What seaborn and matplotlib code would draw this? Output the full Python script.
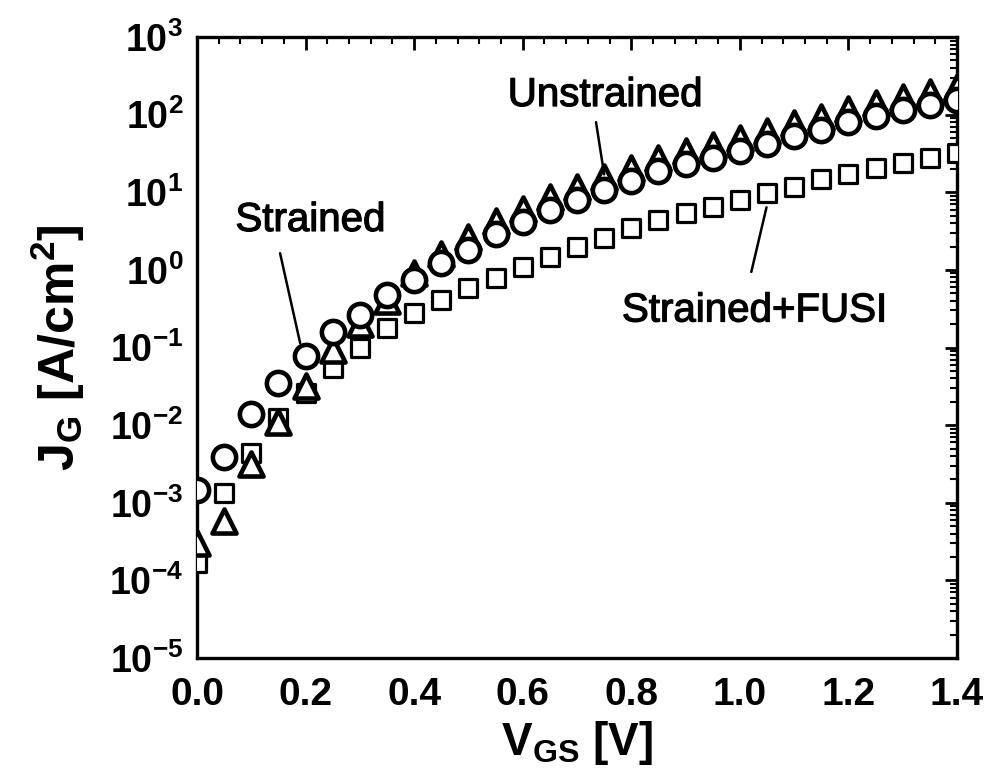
import numpy as np
import pandas as pd
import matplotlib
matplotlib.use("Agg")
import matplotlib.pyplot as plt
import matplotlib.patheffects as pe
import seaborn as sns
from matplotlib import font_manager
from matplotlib.ticker import MultipleLocator, LogLocator, NullFormatter

# ---------------- data ----------------
v_gs = [0.00, 0.05, 0.10, 0.15, 0.20, 0.25, 0.30, 0.35, 0.40, 0.45,
        0.50, 0.55, 0.60, 0.65, 0.70, 0.75, 0.80, 0.85, 0.90, 0.95,
        1.00, 1.05, 1.10, 1.15, 1.20, 1.25, 1.30, 1.35, 1.40]

jg_strained = [1.45e-3, 3.9e-3, 1.4e-2, 3.5e-2, 7.8e-2, 0.158, 0.263, 0.479, 0.741, 1.23,
               1.82, 2.88, 4.17, 5.89, 7.94, 10.7, 13.8, 18.6, 22.9, 27.5,
               33.9, 41.7, 52.5, 63.1, 79.4, 95.5, 115, 132, 155]

jg_unstrained = [3.0e-4, 5.8e-4, 3.2e-3, 1.1e-2, 3.2e-2, 9.3e-2, 0.20, 0.40, 0.91, 1.62,
                 2.63, 4.27, 6.17, 8.71, 11.7, 15.8, 20.4, 27.5, 33.9, 40.7,
                 50.1, 61.7, 77.6, 93.3, 117, 141, 170, 195, 229]

jg_fusi = [1.66e-4, 1.32e-3, 4.4e-3, 1.23e-2, 2.6e-2, 5.4e-2, 0.100, 0.178, 0.275, 0.407,
           0.589, 0.776, 1.10, 1.45, 1.95, 2.57, 3.47, 4.37, 5.37, 6.46,
           7.94, 9.77, 11.7, 14.8, 17.0, 20.4, 24.0, 27.5, 31.6]

series_names = ["Strained+FUSI", "Unstrained", "Strained"]

x_ticks = [0.0, 0.2, 0.4, 0.6, 0.8, 1.0, 1.2, 1.4]
x_tick_labels = ["0.0", "0.2", "0.4", "0.6", "0.8", "1.0", "1.2", "1.4"]
y_ticks = [1e-5, 1e-4, 1e-3, 1e-2, 1e-1, 1e0, 1e1, 1e2, 1e3]
y_tick_labels = ["10$^{-5}$", "10$^{-4}$", "10$^{-3}$", "10$^{-2}$", "10$^{-1}$",
                 "10$^{0}$", "10$^{1}$", "10$^{2}$", "10$^{3}$"]

x_label = "V$_{GS}$ [V]"
y_label = "J$_{G}$ [A/cm$^{2}$]"

# ---------------- style ----------------
sns.set_theme(style="white")
plt.rcParams["font.family"] = ["Liberation Sans", "DejaVu Sans"]
plt.rcParams["mathtext.default"] = "regular"
for key in ["text.color", "axes.labelcolor", "xtick.color", "ytick.color", "axes.edgecolor"]:
    plt.rcParams[key] = "black"

names = {f.name for f in font_manager.fontManager.ttflist}
narrow = "Liberation Sans Narrow" if "Liberation Sans Narrow" in names else "Liberation Sans"

df = pd.DataFrame({
    "V": v_gs * 3,
    "J": jg_fusi + jg_unstrained + jg_strained,
    "series": [series_names[0]] * len(v_gs) + [series_names[1]] * len(v_gs) + [series_names[2]] * len(v_gs),
})

fig = plt.figure(figsize=(9.89, 7.78), dpi=100)
ax = fig.add_axes([0.1992, 0.1542, 0.7685, 0.7982])

marker_map = {"Strained+FUSI": "s", "Unstrained": "^", "Strained": "o"}
size_map = {"Strained+FUSI": 185, "Unstrained": 300, "Strained": 280}
lw_map = {"Strained+FUSI": 2.3, "Unstrained": 3.3, "Strained": 3.3}

for name in series_names:
    sub = df[df["series"] == name]
    sns.scatterplot(data=sub, x="V", y="J", ax=ax, marker=marker_map[name],
                    s=size_map[name], color="white", edgecolor="black",
                    linewidth=lw_map[name], legend=False, zorder=3)

ax.set_yscale("log")
ax.set_xlim(0.0, 1.4)
ax.set_ylim(1e-5, 1e3)

ax.set_xticks(x_ticks)
ax.set_xticklabels(x_tick_labels, fontsize=28, fontweight="bold", family=[narrow, "DejaVu Sans"])
ax.set_yticks(y_ticks)
ax.set_yticklabels(y_tick_labels, fontsize=27, fontweight="bold")
ax.xaxis.set_minor_locator(MultipleLocator(0.04))
ax.yaxis.set_minor_locator(LogLocator(base=10, subs=np.arange(2, 10)))
ax.yaxis.set_minor_formatter(NullFormatter())

ax.tick_params(which="both", direction="in", top=True, right=True, colors="black")
ax.tick_params(which="major", length=9, width=2)
ax.tick_params(which="minor", length=5, width=1.5)
ax.tick_params(axis="x", which="major", pad=14)
ax.tick_params(axis="y", which="major", pad=10)

for sp in ax.spines.values():
    sp.set_linewidth(2.4)
    sp.set_color("black")

ax.set_xlabel(x_label, fontsize=33, fontweight="bold", labelpad=4)
ax.set_ylabel(y_label, fontsize=36, fontweight="bold", labelpad=16)

# annotations
stroke = [pe.withStroke(linewidth=0.9, foreground="black")]
txt_kw = dict(fontsize=29, ha="center", va="center", color="black", path_effects=stroke)
ax.text(0.752, 179, "Unstrained", **txt_kw)
ax.text(0.209, 4.4, "Strained", **txt_kw)
ax.text(1.027, 0.30, "Strained+FUSI", **txt_kw)

line_kw = dict(arrowstyle="-", color="black", lw=1.8, shrinkA=0, shrinkB=0)
ax.annotate("", xy=(0.75, 17), xytext=(0.735, 80), arrowprops=line_kw)
ax.annotate("", xy=(0.19, 0.114), xytext=(0.153, 1.64), arrowprops=line_kw)
ax.annotate("", xy=(1.049, 6.4), xytext=(1.021, 0.94), arrowprops=line_kw)

fig.savefig("out.png", dpi=100)
